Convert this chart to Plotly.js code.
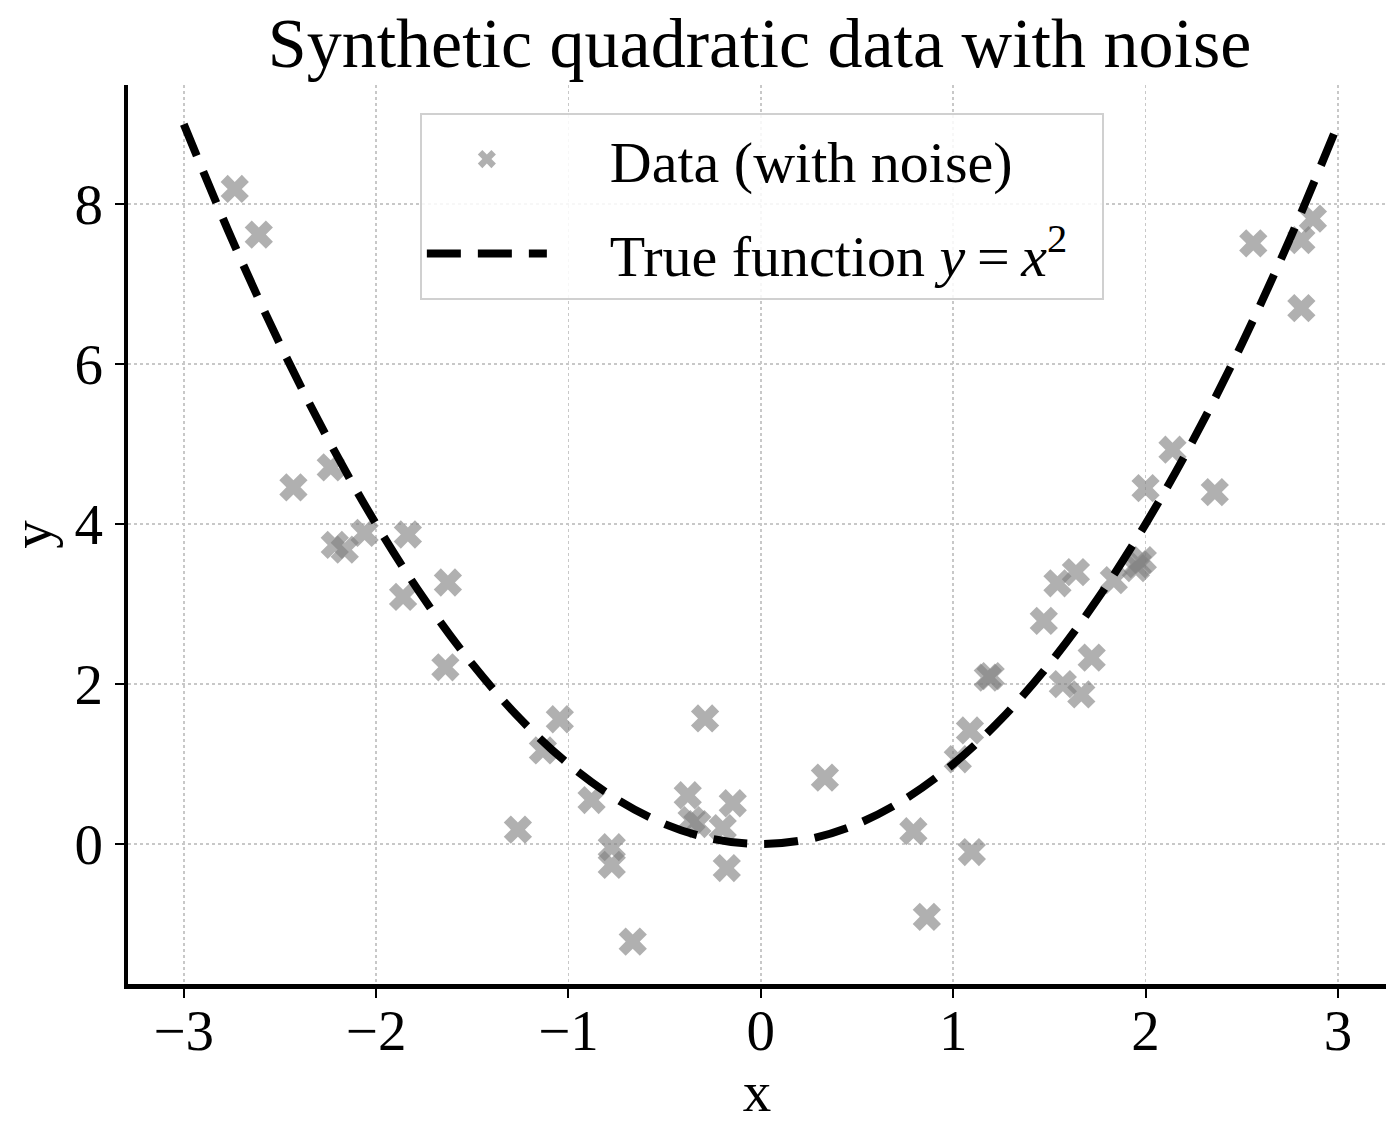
<!DOCTYPE html>
<html>
<head>
<meta charset="utf-8">
<script src="https://cdn.plot.ly/plotly-3.0.1.min.js"></script>
<style>html,body{margin:0;padding:0;background:#fff;}#chart{width:1386px;height:1123px;}</style>
</head>
<body>
<div id="chart"></div>
<script>
const dataX = [-2.735, -2.61, -2.43, -2.236, -2.215, -2.163, -2.06, -1.835, -1.86, -1.627, -1.64,
  -1.263, -1.133, -1.045, -0.88, -0.775, -0.775, -0.666, -0.29, -0.38, -0.36, -0.33, -0.146, -0.198, -0.177, 0.333,
  0.793, 0.863, 1.097, 1.024, 1.087, 1.18, 1.195, 1.471, 1.542, 1.638, 1.57, 1.666, 1.72, 1.835, 1.95, 1.986, 1.96,
  2.0, 2.14, 2.36, 2.56, 2.81, 2.87, 2.81];
const dataY = [8.19, 7.62, 4.46, 4.71, 3.74, 3.68, 3.89, 3.87, 3.09, 3.27, 2.21,
  0.18, 1.17, 1.56, 0.55, -0.04, -0.26, -1.22, 1.57, 0.61, 0.30, 0.25, 0.51, 0.20, -0.30, 0.83,
  0.16, -0.91, -0.10, 1.06, 1.42, 2.08, 2.10, 2.79, 3.26, 3.40, 2.0, 1.87, 2.33, 3.30, 3.45, 3.55, 3.50,
  4.45, 4.93, 4.40, 7.51, 7.55, 7.82, 6.70];
// True function samples
const curveX = [-3, -2.75, -2.5, -2.25, -2, -1.75, -1.5, -1.25, -1, -0.75, -0.5, -0.25, 0,
  0.25, 0.5, 0.75, 1, 1.25, 1.5, 1.75, 2, 2.25, 2.5, 2.75, 3];
const curveY = [9, 7.5625, 6.25, 5.0625, 4, 3.0625, 2.25, 1.5625, 1, 0.5625, 0.25, 0.0625, 0,
  0.0625, 0.25, 0.5625, 1, 1.5625, 2.25, 3.0625, 4, 5.0625, 6.25, 7.5625, 9];
const xTicks = [-3, -2, -1, 0, 1, 2, 3];
const yTicks = [0, 2, 4, 6, 8];

const serif = "Liberation Serif, Times New Roman, serif";
const pad = '\u00a0\u00a0\u00a0\u00a0';

const traces = [
  {
    x: dataX, y: dataY, mode: 'markers', type: 'scatter',
    name: pad + 'Data (with noise)', legendgroup: 'a',
    marker: {symbol: 'x', size: 25, color: 'rgba(128,128,128,0.62)', line: {width: 0}}
  },
  {
    x: curveX, y: curveY, mode: 'lines', type: 'scatter',
    name: pad + 'True function <i>y</i>\u2009=\u2009<i>x</i><sup>2</sup>\u00a0\u00a0', legendgroup: 'b',
    line: {color: '#000', width: 8, dash: '34px,17px', shape: 'spline'}
  }
];

const axisCommon = {
  showline: true, linecolor: '#000', linewidth: 4.5,
  ticks: 'outside', ticklen: 9, tickwidth: 2, tickcolor: '#000',
  showgrid: true, gridcolor: '#c8c8c8', gridwidth: 1.5, griddash: 'dot',
  zeroline: false, mirror: false,
  tickfont: {family: serif, size: 57, color: '#000'}
};

const layout = {
  width: 1386, height: 1123,
  paper_bgcolor: '#fff', plot_bgcolor: '#fff',
  margin: {l: 128, r: 0, t: 85, b: 139},
  font: {family: serif, color: '#000'},
  title: {text: 'Synthetic quadratic data with noise', font: {family: serif, size: 70, color: '#000'},
    x: 0.548, xanchor: 'center', y: 0.962, yanchor: 'middle'},
  xaxis: Object.assign({}, axisCommon, {
    range: [-3.29, 3.25], tickvals: xTicks, ticklabelstandoff: -16,
    title: {text: 'x', font: {family: serif, size: 57, color: '#000'}, standoff: 30}
  }),
  yaxis: Object.assign({}, axisCommon, {
    range: [-1.75, 9.49], tickvals: yTicks,
    title: {text: 'y', font: {family: serif, size: 57, color: '#000'}, standoff: 8}
  }),
  showlegend: true,
  legend: {
    x: 0.232, y: 0.969, xanchor: 'left', yanchor: 'top',
    bgcolor: 'rgba(255,255,255,0.85)', bordercolor: '#d0d0d0', borderwidth: 2,
    font: {family: serif, size: 58, color: '#000'},
    itemwidth: 120, tracegroupgap: 16, traceorder: 'grouped'
  }
};

Plotly.newPlot('chart', traces, layout, {staticPlot: true, displayModeBar: false});
</script>
</body>
</html>
